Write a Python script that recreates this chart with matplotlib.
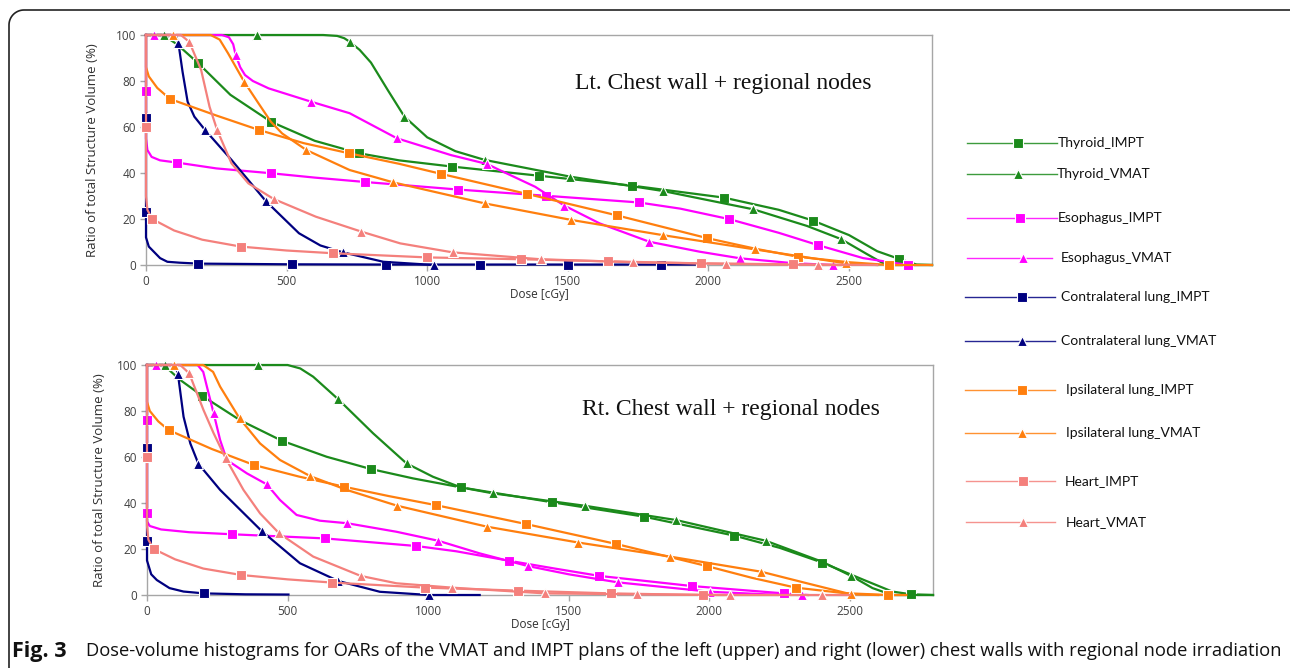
import numpy as np
import matplotlib.pyplot as plt
from matplotlib.lines import Line2D

# ---- data: (dose cGy, volume %, indices that carry a marker) ----
# left chest wall
lt_thy_impt = ([0, 60, 110, 186, 300, 444, 600, 757, 900, 1088, 1399, 1729, 2055, 2250, 2372, 2500, 2600, 2679, 2740, 2795],
               [100, 100, 96, 87.7, 74, 62.3, 54, 48.6, 45.5, 42.8, 38.8, 34.5, 29.3, 24, 19.3, 13, 6, 2.6, 0.2, 0],
               [3, 5, 7, 9, 10, 11, 12, 14, 17])
lt_thy_vmat = ([0, 64, 396, 630, 680, 705, 724, 760, 800, 860, 919, 1000, 1100, 1204, 1509, 1837, 2160, 2350, 2471, 2560, 2632, 2795],
               [100, 100, 100, 100, 99.6, 98.6, 97.1, 93.5, 88, 76, 64.5, 55.5, 49.5, 45.7, 38.4, 32.2, 24.2, 17, 11.3, 5, 0, 0],
               [1, 2, 6, 10, 13, 14, 15, 16, 18])
lt_eso_impt = ([0, 0, 0, 5, 20, 50, 112, 250, 444, 600, 778, 1110, 1423, 1752, 1900, 2072, 2250, 2391, 2550, 2710],
               [100, 75.8, 55, 50, 47, 45.5, 44.5, 42, 39.9, 38, 36.1, 32.8, 30.1, 27.2, 24.5, 20.0, 14, 8.6, 3, 0],
               [1, 6, 8, 10, 11, 12, 13, 15, 17, 19])
lt_eso_vmat = ([0, 30, 270, 295, 310, 319, 335, 352, 380, 436, 587, 724, 892, 1084, 1213, 1257, 1384, 1488, 1613, 1790, 1968, 2113, 2300, 2442],
               [100, 100, 100, 99, 96, 91.3, 86, 82.6, 80, 76.8, 71, 66, 55.1, 47.8, 43.9, 41.3, 34, 25.8, 18.1, 10.1, 5.8, 2.9, 0.8, 0],
               [1, 5, 10, 12, 14, 17, 19, 21, 23])
lt_cl_impt = ([0, 0, 0, 0, 10, 22, 50, 76, 120, 186, 520, 853, 1188, 1500, 1831, 1990],
              [100, 64, 23, 12, 8, 6.5, 3, 1.4, 1, 0.6, 0.3, 0.2, 0.2, 0.2, 0.2, 0.2],
              [1, 2, 9, 10, 11, 12, 13, 14])
lt_cl_vmat = ([0, 105, 115, 130, 148, 172, 210, 304, 426, 544, 620, 700, 844, 1024],
              [100, 100, 96.7, 84, 71, 64.5, 58.7, 45.7, 27.8, 13.8, 8.5, 5.5, 1.4, 0],
              [2, 6, 8, 11, 13])
lt_ip_impt = ([0, 0, 10, 40, 85, 250, 402, 560, 721, 900, 1050, 1355, 1674, 1995, 2170, 2317, 2500, 2643, 2795],
              [100, 86, 82, 77, 72.2, 65, 58.7, 53, 48.6, 44, 39.6, 30.9, 21.6, 11.7, 7, 3.6, 1.2, 0, 0],
              [4, 6, 8, 10, 11, 12, 13, 15, 17])
lt_ip_vmat = ([0, 97, 230, 262, 292, 349, 400, 444, 484, 570, 724, 880, 1204, 1512, 1837, 2164, 2490, 2600],
              [100, 100, 100, 98, 92, 79.7, 70.3, 62.3, 57.2, 50, 41.3, 35.9, 26.8, 19.6, 13.0, 6.8, 0.7, 0],
              [1, 5, 9, 11, 12, 13, 14, 15, 16])
lt_heart_impt = ([0, 0, 0, 5, 22, 100, 200, 337, 500, 666, 1000, 1332, 1642, 1974, 2300, 2600],
                 [100, 60, 30, 24, 20, 15, 11, 8.0, 6.3, 5.1, 3.3, 2.5, 1.6, 0.7, 0.3, 0],
                 [1, 4, 7, 9, 10, 11, 12, 13, 14])
lt_heart_vmat = ([0, 124, 154, 196, 226, 253, 304, 364, 454, 604, 766, 904, 1090, 1403, 1731, 2063, 2391, 2500],
                 [100, 100, 97, 84.8, 68.8, 58.7, 44.2, 35.5, 28.7, 21, 14.5, 9.4, 5.5, 2.5, 1.2, 0.5, 0, 0],
                 [2, 5, 8, 10, 12, 13, 14, 15, 16])

# right chest wall
rt_thy_impt = ([0, 59, 118, 195, 331, 479, 639, 795, 946, 1116, 1441, 1766, 2089, 2250, 2401, 2550, 2650, 2717, 2795],
               [100, 100, 93.5, 86.7, 76, 67.1, 60.1, 54.8, 50.7, 46.8, 40.3, 34.1, 25.8, 20.5, 14.1, 6.5, 1.5, 0.3, 0],
               [3, 5, 7, 9, 10, 11, 12, 14, 17])
rt_thy_vmat = ([0, 65, 393, 500, 545, 591, 680, 804, 923, 1017, 1116, 1230, 1557, 1881, 2200, 2400, 2504, 2580, 2650, 2795],
               [100, 100, 100, 100, 98.5, 94.9, 85.1, 70.3, 57.2, 51.4, 46.8, 44.2, 38.8, 32.6, 23.6, 14.5, 8.3, 3, 0, 0],
               [1, 2, 6, 8, 11, 12, 13, 14, 16])
rt_eso_impt = ([0, 0, 0, 0, 10, 50, 150, 304, 633, 958, 1100, 1287, 1450, 1609, 1937, 2265, 2350],
               [100, 76, 35.5, 32, 30, 28.5, 27.3, 26.4, 24.6, 21.3, 19, 14.9, 11.5, 8.3, 3.9, 0.7, 0],
               [1, 2, 7, 8, 9, 11, 13, 14, 15])
rt_eso_vmat = ([0, 33, 180, 200, 213, 237, 260, 284, 355, 426, 473, 532, 615, 712, 887, 1035, 1183, 1354, 1500, 1674, 2003, 2200, 2330],
               [100, 100, 100, 97, 90.6, 79, 67.4, 58.7, 52.9, 48.1, 41.3, 34.8, 32.3, 31.2, 27.5, 23.6, 18.1, 12.6, 9, 5.5, 1.4, 0.3, 0],
               [1, 5, 9, 13, 15, 17, 19, 20, 22])
rt_cl_impt = ([0, 0, 0, 0, 15, 35, 80, 130, 203, 350, 503],
              [100, 64, 23.5, 15, 9, 6.5, 3, 1.5, 0.7, 0.3, 0.2],
              [1, 2, 8])
rt_cl_vmat = ([0, 100, 110, 130, 154, 183, 260, 408, 544, 680, 828, 1003, 1183],
              [100, 100, 96.1, 77.5, 65.9, 57, 45.7, 27.8, 13.8, 6.1, 1.4, 0, 0],
              [2, 5, 7, 9, 11])
rt_ip_impt = ([0, 0, 10, 40, 77, 230, 381, 540, 700, 860, 1026, 1346, 1668, 1990, 2150, 2307, 2480, 2636, 2700],
              [100, 84, 80, 75.5, 71.7, 63.5, 56.5, 51.5, 47.1, 43, 39.1, 30.9, 22.2, 12.6, 7.5, 3.2, 0.8, 0, 0],
              [4, 6, 8, 10, 11, 12, 13, 15, 17])
rt_ip_vmat = ([0, 95, 200, 235, 260, 329, 402, 473, 580, 710, 890, 1209, 1534, 1860, 2185, 2350, 2504, 2600],
              [100, 100, 100, 97, 90.6, 76.8, 65.9, 58.7, 51.7, 45.7, 38.8, 29.7, 22.8, 16.7, 10.1, 5, 0.3, 0],
              [1, 5, 8, 10, 11, 12, 13, 14, 16])
rt_heart_impt = ([0, 0, 0, 5, 24, 100, 200, 335, 500, 659, 990, 1321, 1650, 1976, 2050],
                 [100, 60, 30, 24, 20, 15.5, 11.5, 8.7, 6.8, 5.4, 3.2, 1.9, 0.7, 0, 0],
                 [1, 4, 7, 9, 10, 11, 12, 13])
rt_heart_vmat = ([0, 118, 150, 201, 237, 280, 343, 402, 470, 591, 760, 887, 1085, 1416, 1743, 2073, 2400, 2500],
                 [100, 100, 96.4, 80.4, 70.3, 59.4, 45.7, 35.5, 26.8, 16.7, 8.3, 5.1, 3.2, 0.7, 0.3, 0, 0, 0],
                 [2, 5, 8, 10, 12, 13, 14, 15, 16])

labels = ['Thyroid_IMPT', 'Thyroid_VMAT', 'Esophagus_IMPT', 'Esophagus_VMAT',
          'Contralateral lung_IMPT', 'Contralateral lung_VMAT',
          'Ipsilateral lung_IMPT', 'Ipsilateral lung_VMAT', 'Heart_IMPT', 'Heart_VMAT']
lt_series = [lt_thy_impt, lt_thy_vmat, lt_eso_impt, lt_eso_vmat, lt_cl_impt, lt_cl_vmat,
             lt_ip_impt, lt_ip_vmat, lt_heart_impt, lt_heart_vmat]
rt_series = [rt_thy_impt, rt_thy_vmat, rt_eso_impt, rt_eso_vmat, rt_cl_impt, rt_cl_vmat,
             rt_ip_impt, rt_ip_vmat, rt_heart_impt, rt_heart_vmat]
x_ticks = [0, 500, 1000, 1500, 2000, 2500]
y_ticks = [0, 20, 40, 60, 80, 100]

colors = ['#1b8a1b', '#1b8a1b', '#ff00ff', '#ff00ff', '#000080', '#000080',
          '#ff7f0e', '#ff7f0e', '#f4807c', '#f4807c']
markers = ['s', '^'] * 5

W, H = 1290, 668
fig = plt.figure(figsize=(W / 100, H / 100), dpi=100)


def fx(px):
    return px / W


def fy(py):
    return 1 - py / H


def make_axes(left, top, right, bottom):
    ax = fig.add_axes([fx(left), fy(bottom), fx(right) - fx(left), (bottom - top) / H])
    ax.set_xlim(0, 2795)
    ax.set_ylim(0, 100)
    ax.set_xticks(x_ticks)
    ax.set_yticks(y_ticks)
    for s in ax.spines.values():
        s.set_color('#a6a6a6')
        s.set_linewidth(1)
    ax.tick_params(colors='#a6a6a6', labelcolor='#404040', length=4, width=1,
                   labelsize=8.5, pad=3)
    for t in ax.get_xticklabels() + ax.get_yticklabels():
        t.set_family('Open Sans')
    return ax


def draw(ax, series):
    # back to front so thyroid sits on top
    for i in reversed(range(len(series))):
        d, v, mk = series[i]
        ms = 7 if markers[i] == 's' else 7.5
        ax.plot(d, v, color=colors[i], lw=1.6, marker=markers[i], markevery=mk,
                ms=ms, mec='white', mew=0.8, clip_on=False, zorder=3 + i * 0.1,
                solid_joinstyle='round')


ax1 = make_axes(146, 35, 932, 265)
ax2 = make_axes(147, 365, 933, 595)
draw(ax1, lt_series)
draw(ax2, rt_series)

for ax in (ax1, ax2):
    ax.set_xlabel('Dose [cGy]', fontsize=8.5, family='Open Sans', color='#303030', labelpad=0)

fig.text(fx(92), fy(150), 'Ratio of total Structure Volume (%)', rotation=90,
         ha='center', va='center', fontsize=9.5, family='Open Sans', color='#303030')
fig.text(fx(99), fy(480), 'Ratio of total Structure Volume (%)', rotation=90,
         ha='center', va='center', fontsize=9.5, family='Open Sans', color='#303030')

fig.text(fx(723), fy(83), 'Lt. Chest wall + regional nodes', ha='center', va='center',
         fontsize=17, family='Liberation Serif', color='#111111')
fig.text(fx(731), fy(409), 'Rt. Chest wall + regional nodes', ha='center', va='center',
         fontsize=17, family='Liberation Serif', color='#111111')

# legend drawn by hand, rows are spaced unevenly in the original
leg_y = [142.7, 174, 217.7, 258, 296.7, 340.7, 390, 433, 480.7, 521.7]
leg_x0 = [967, 967, 967, 967, 965, 965, 965, 965, 966, 966]
leg_x1 = [1057, 1057, 1057, 1052, 1055, 1055, 1055, 1055, 1055, 1055]
leg_mk = [1018, 1018, 1020, 1023, 1022, 1022, 1022, 1022, 1023, 1023]
leg_tx = [1058, 1057, 1058, 1061, 1061, 1061, 1066, 1066, 1065, 1066]
for i, lab in enumerate(labels):
    y = fy(leg_y[i])
    fig.add_artist(Line2D([fx(leg_x0[i]), fx(leg_x1[i])], [y, y], color=colors[i],
                          lw=1.0, alpha=0.85))
    fig.add_artist(Line2D([fx(leg_mk[i])], [y], marker=markers[i], ms=7, color=colors[i],
                          mec='white', mew=0.8, lw=0))
    fig.text(fx(leg_tx[i]), y, lab, ha='left', va='center', fontsize=10,
             family='Lato', color='#111111')

# caption
fig.text(fx(12), fy(651), 'Fig. 3', ha='left', va='center', fontsize=15.5,
         family='Open Sans', weight='bold', color='#111111')
cap = fig.text(fx(86), fy(651),
               'Dose-volume histograms for OARs of the VMAT and IMPT plans of the left (upper) '
               'and right (lower) chest walls with regional node irradiation',
               ha='left', va='center', fontsize=12, family='Open Sans', color='#111111')
fig.canvas.draw()
w = cap.get_window_extent().width
cap.set_fontsize(12 * 1189 / w)

# frame around the figure, rounded top-left corner, open at right and bottom
r = 15
th = np.linspace(np.pi, np.pi / 2, 20)
bx = np.concatenate([[9, 9], 9 + r + r * np.cos(th), [W]])
by = np.concatenate([[H, 10 + r], 10 + r - r * np.sin(th), [10]])
fig.add_artist(Line2D(fx(bx), fy(by), color='#222222', lw=1.2))

fig.savefig('out.png', dpi=100)
